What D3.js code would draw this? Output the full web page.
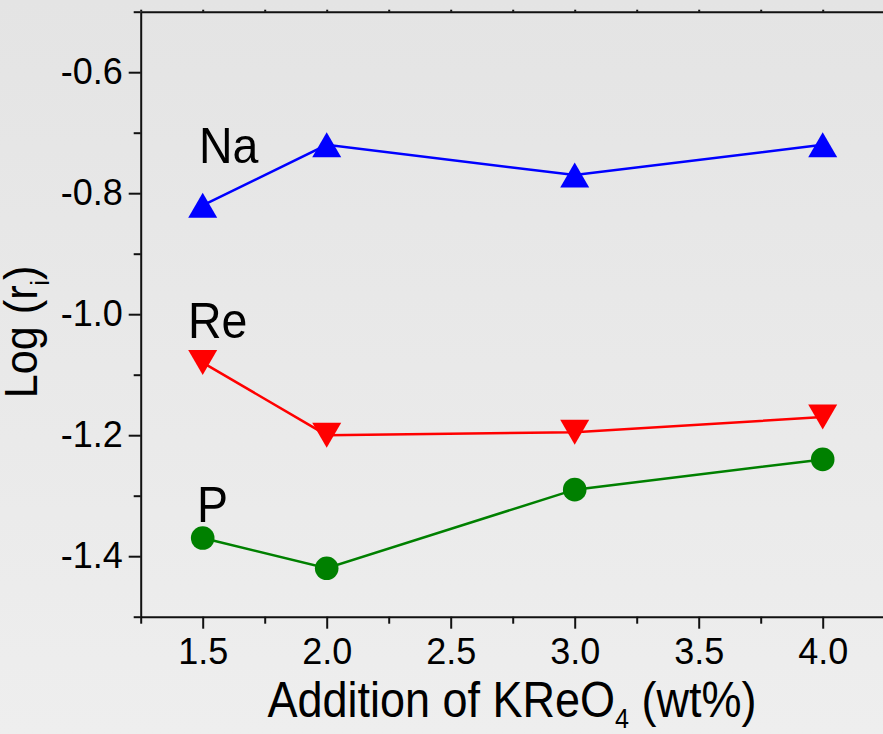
<!DOCTYPE html>
<html><head><meta charset="utf-8">
<script src="https://cdn.jsdelivr.net/npm/d3@7"></script>
<style>
html,body{margin:0;padding:0;background:#e8e8e8;}
svg{display:block;font-family:"Liberation Sans",Arial,sans-serif;}
</style></head>
<body><svg id="chart" width="883" height="734"></svg>
<script>
const xValues = [1.5, 2.0, 3.0, 4.0];
const naValues = [-0.82, -0.72, -0.77, -0.72];
const reValues = [-1.08, -1.20, -1.195, -1.17];
const pValues = [-1.37, -1.42, -1.29, -1.24];
const xMajorTicks = [1.5, 2.0, 2.5, 3.0, 3.5, 4.0];
const xMinorTicks = [1.25, 1.75, 2.25, 2.75, 3.25, 3.75, 4.25];
const yMajorTicks = [-0.6, -0.8, -1.0, -1.2, -1.4];
const yMinorTicks = [-0.5, -0.7, -0.9, -1.1, -1.3, -1.5];

const svg = d3.select("#chart");
const defs = svg.append("defs");
const grad = defs.append("linearGradient").attr("id","bg").attr("x1",0).attr("y1",0).attr("x2",0).attr("y2",1);
grad.append("stop").attr("offset","0%").attr("stop-color","#e4e4e4");
grad.append("stop").attr("offset","100%").attr("stop-color","#eeeeee");
svg.append("rect").attr("width",883).attr("height",734).attr("fill","url(#bg)");

const x = d3.scaleLinear().domain([1.25, 4.25]).range([140.7, 884.7]);
const y = d3.scaleLinear().domain([-1.5, -0.5]).range([616.7, 11.7]);

function styleAxis(g){
  g.selectAll("path.domain").attr("stroke","#111").attr("stroke-width",2);
  g.selectAll(".tick line").attr("stroke","#111").attr("stroke-width",2);
  g.selectAll("text").attr("font-size",36).attr("fill","#000").attr("font-family","Liberation Sans, Arial, sans-serif");
}

// bottom axis
const gxMinor = svg.append("g").attr("transform",`translate(0,${y(-1.5)})`)
  .call(d3.axisBottom(x).tickValues(xMinorTicks).tickSize(7).tickSizeOuter(0).tickFormat(""));
styleAxis(gxMinor);
const gxMajor = svg.append("g").attr("transform",`translate(0,${y(-1.5)})`)
  .call(d3.axisBottom(x).tickValues(xMajorTicks).tickSize(12).tickSizeOuter(0).tickPadding(10).tickFormat(d3.format(".1f")));
styleAxis(gxMajor);
gxMajor.select("path.domain").remove();

// top axis
const gxTop = svg.append("g").attr("transform",`translate(0,${y(-0.5)})`)
  .call(d3.axisTop(x).tickValues(xMajorTicks.concat(xMinorTicks)).tickSize(2).tickSizeOuter(0).tickFormat(""));
styleAxis(gxTop);

// left axis
const gyMinor = svg.append("g").attr("transform",`translate(${x(1.25)},0)`)
  .call(d3.axisLeft(y).tickValues(yMinorTicks).tickSize(7).tickSizeOuter(0).tickFormat(""));
styleAxis(gyMinor);
const gyMajor = svg.append("g").attr("transform",`translate(${x(1.25)},0)`)
  .call(d3.axisLeft(y).tickValues(yMajorTicks).tickSize(12).tickSizeOuter(0).tickPadding(6).tickFormat(d3.format(".1f")));
styleAxis(gyMajor);
gyMajor.select("path.domain").remove();
gyMajor.selectAll("text").text(d => d3.format(".1f")(d).replace("−","-"));

// series
const series = [
  {name:"Na", values:naValues, color:"#0000ff", marker:"up"},
  {name:"Re", values:reValues, color:"#ff0000", marker:"down"},
  {name:"P", values:pValues, color:"#008000", marker:"circle"}
];
const line = d3.line().x(d=>x(d[0])).y(d=>y(d[1]));
const tw = 29, th = 25;
series.forEach(s=>{
  const pts = xValues.map((v,i)=>[v, s.values[i]]);
  svg.append("path").datum(pts).attr("d",line).attr("fill","none").attr("stroke",s.color).attr("stroke-width",2.5);
  const g = svg.append("g");
  pts.forEach(p=>{
    const cx = x(p[0]), cy = y(p[1]);
    if(s.marker==="circle"){
      g.append("circle").attr("cx",cx).attr("cy",cy).attr("r",11.8).attr("fill",s.color);
    } else if(s.marker==="up"){
      g.append("path").attr("d",`M${cx},${cy-th/2}L${cx+tw/2},${cy+th/2}L${cx-tw/2},${cy+th/2}Z`).attr("fill",s.color);
    } else {
      g.append("path").attr("d",`M${cx},${cy+th/2}L${cx+tw/2},${cy-th/2}L${cx-tw/2},${cy-th/2}Z`).attr("fill",s.color);
    }
  });
});

// series labels
const labels = [
  {text:"Na", x:199, y:163},
  {text:"Re", x:188, y:338},
  {text:"P", x:197, y:521.5}
];
labels.forEach(l=>{
  svg.append("text").attr("transform",`translate(${l.x},${l.y}) scale(0.93,1)`)
    .attr("font-size",50).attr("fill","#000").text(l.text);
});

// x title
const xt = svg.append("text").attr("transform","translate(512,717) scale(0.9,1)")
  .attr("text-anchor","middle").attr("font-size",50).attr("fill","#000");
xt.append("tspan").text("Addition of KReO");
xt.append("tspan").attr("font-size",28).attr("dy",11).text("4");
xt.append("tspan").attr("dy",-11).text(" (wt%)");

// y title
const yt = svg.append("text").attr("transform","translate(37,332) rotate(-90) scale(0.92,1)")
  .attr("text-anchor","middle").attr("font-size",47).attr("fill","#000");
yt.append("tspan").text("Log (r");
yt.append("tspan").attr("font-size",26).attr("dy",12).text("i");
yt.append("tspan").attr("dy",-12).text(")");
</script>
</body></html>
